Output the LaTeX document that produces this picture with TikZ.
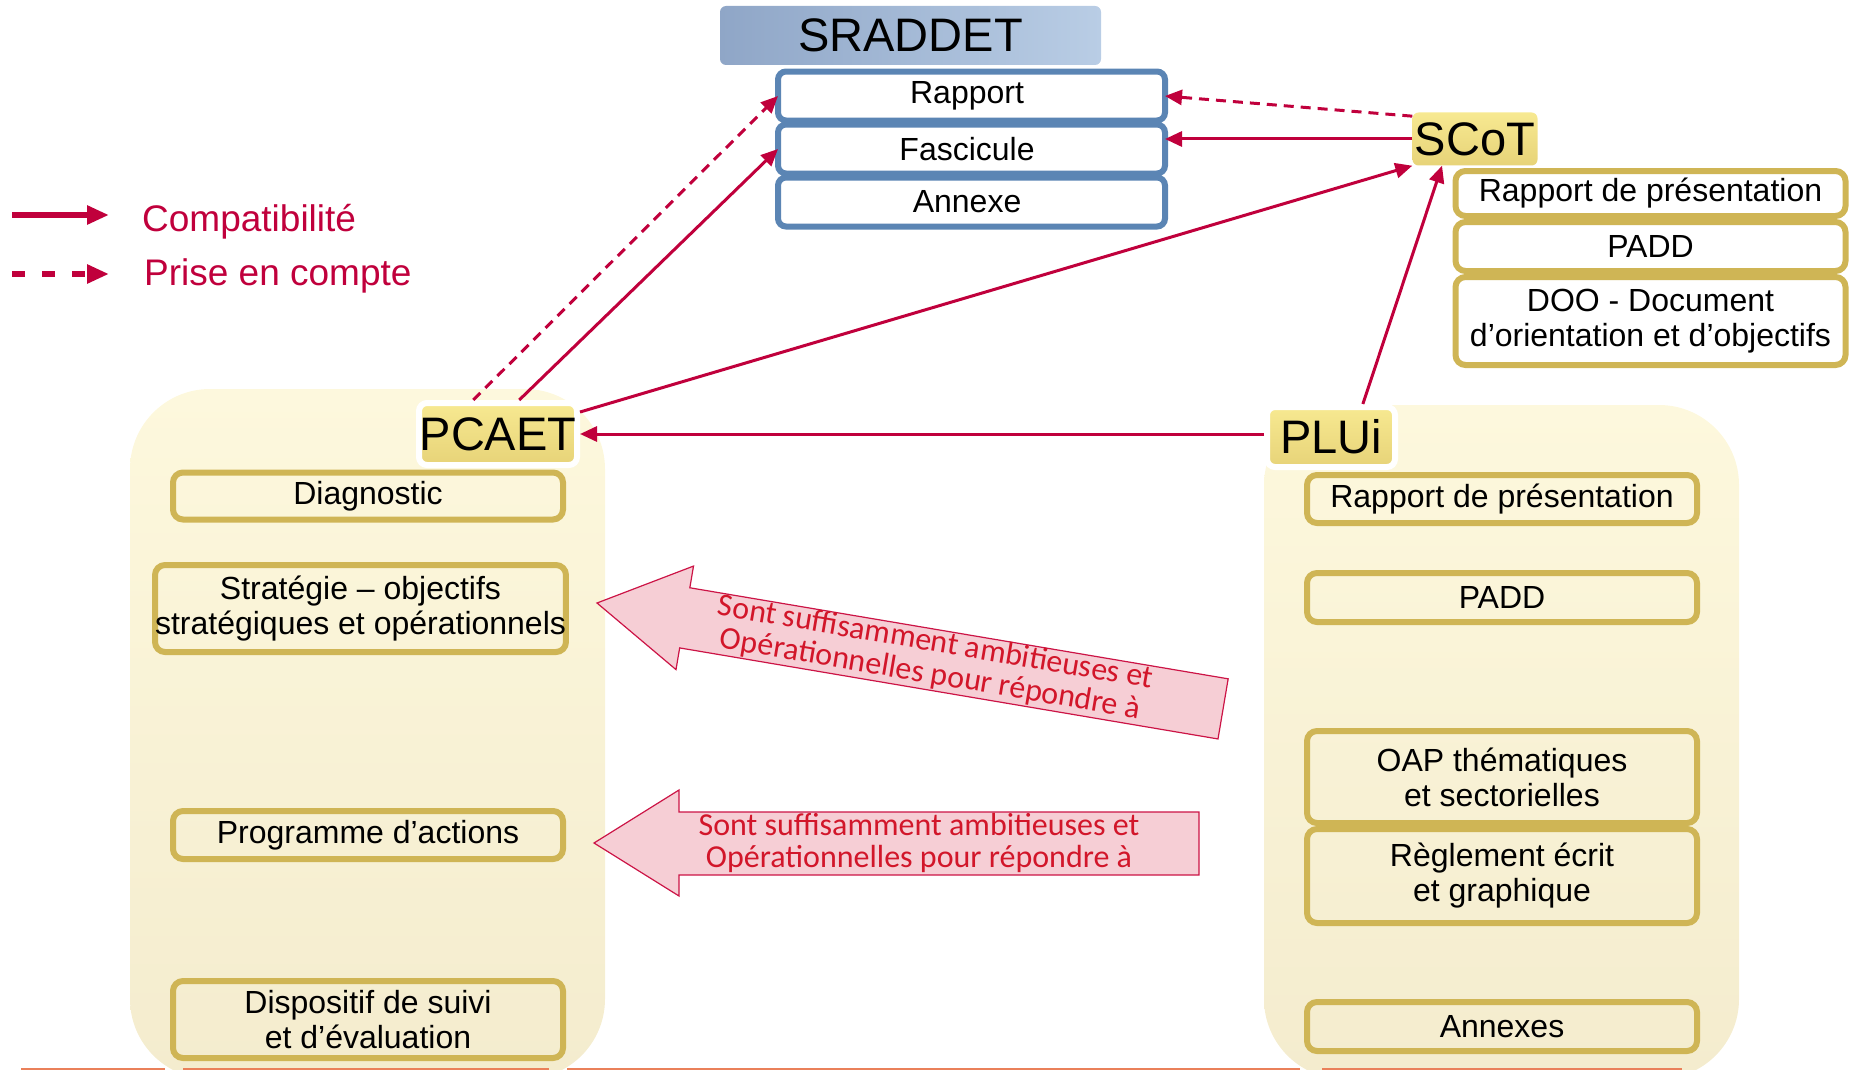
\documentclass[tikz,border=0pt]{standalone}
\usepackage{fontspec}
\setmainfont{Liberation Sans}
\newfontfamily\calfont{Carlito}
\usetikzlibrary{arrows.meta,positioning}
\usetikzlibrary{matrix,calc}

\definecolor{crimson}{RGB}{192,0,60}
\definecolor{bluebord}{RGB}{91,133,180}
\definecolor{bluedark}{RGB}{143,166,199}
\definecolor{bluelight}{RGB}{185,205,229}
\definecolor{goldbord}{RGB}{207,181,85}
\definecolor{ylwtop}{RGB}{247,233,145}
\definecolor{ylwbot}{RGB}{231,211,120}
\definecolor{creamtop}{RGB}{253,248,221}
\definecolor{creambot}{RGB}{244,236,206}
\definecolor{pinkfill}{RGB}{246,206,213}
\definecolor{pinkedge}{RGB}{204,20,70}
\definecolor{redtext}{RGB}{210,22,42}
\definecolor{footline}{RGB}{234,128,90}

\begin{document}
\begin{tikzpicture}[x=1pt, y=-1pt,
      txt/.style={font=\fontsize{32}{35}\selectfont, align=center},
      ttl/.style={font=\fontsize{47}{50}\selectfont, inner sep=0pt},
      blubox/.style={txt, draw=bluebord, line width=6pt, rounded corners=8pt, fill=white,
          minimum width=387pt, minimum height=49pt, outer sep=0pt},
      goldbox/.style={txt, draw=goldbord, line width=6pt, rounded corners=10pt,
          minimum width=390pt, inner xsep=0pt},
      doclabel/.style={ttl, top color=ylwtop, bottom color=ylwbot, draw=white,
          line width=6pt, rounded corners=8pt},
      panel/.style={top color=creamtop, bottom color=creambot, rounded corners=80pt,
          minimum width=475pt},
      compat/.style={draw=crimson, line width=3pt, -{Triangle[length=17pt,width=15pt]}},
      prise/.style={compat, dash pattern=on 10pt off 7pt},
      bigarrow/.style={fill=pinkfill, draw=pinkedge, line width=1.2pt},
      arrtxt/.style={font=\calfont\fontsize{32}{32}\selectfont, text=redtext, align=center,
          inner sep=0pt},
      legtxt/.style={anchor=west, font=\fontsize{37}{40}\selectfont, text=crimson, inner sep=0pt}]

  \useasboundingbox (0,0) rectangle (1850,1070);
  \clip (0,0) rectangle (1850,1070);

  \node[panel, minimum height=690pt] (pcaetbg) at (367.5,734) {};
  \node[panel, minimum height=674pt] (pluibg) at (1501.5,742) {};

  \begin{scope}[shift={(597,603)}, rotate=-9.6]
    \draw[bigarrow] (0,0) -- (89,-52.5) -- (89,-30.5) -- (635,-30.5) -- (635,30.5)
        -- (89,30.5) -- (89,52.5) -- cycle;
  \end{scope}
  \node[arrtxt, rotate=-9.6] (ambA) at (933,659)
      {Sont suffisamment ambitieuses et\\Opérationnelles pour répondre à};
  \draw[bigarrow] (594,843) -- (679,790) -- (679,812) -- (1199,812) -- (1199,875)
      -- (679,875) -- (679,896) -- cycle;
  \node[arrtxt] (ambB) at (919,843)
      {Sont suffisamment ambitieuses et\\Opérationnelles pour répondre à};

  \node[ttl, left color=bluedark, right color=bluelight, rounded corners=6pt,
      minimum width=381pt, minimum height=59pt] (sraddet) at (910.5,35.5) {SRADDET};
  \matrix (parts) [matrix of nodes, nodes={blubox}, row sep=-2pt, inner sep=0pt]
      at (971.5,149)
  {
      Rapport \\
      Fascicule \\
      Annexe \\
  };

  \node[ttl, top color=ylwtop, bottom color=ylwbot, rounded corners=6pt,
      minimum width=125pt, minimum height=53pt] (scot) at (1475,139) {SCoT};
  \node[goldbox, fill=white, minimum height=45pt] (scotA) at (1650.5,193.5) {Rapport de présentation};
  \node[goldbox, fill=white, minimum height=49pt, below=0pt of scotA] (scotB) {PADD};
  \node[goldbox, fill=white, minimum height=88pt, below=0pt of scotB] (scotC)
      {DOO - Document\\d’orientation et d’objectifs};

  \node[doclabel, minimum width=158pt, minimum height=62pt] (pcaet) at (498,434) {PCAET};
  \node[goldbox, minimum height=47pt] (diag) at (368,496) {Diagnostic};
  \node[goldbox, minimum width=405pt, minimum height=87pt] (strat) at (360.5,608.5)
      {Stratégie – objectifs\\stratégiques et opérationnels};
  \node[goldbox, minimum height=48pt] (prog) at (368,835) {Programme d’actions};
  \node[goldbox, minimum height=77pt] (suivi) at (368,1019.5) {Dispositif de suivi\\et d’évaluation};

  \node[doclabel, minimum width=128pt, minimum height=60pt] (plui) at (1331,437) {PLUi};
  \node[goldbox, minimum height=48pt] (rp) at (1502,499) {Rapport de présentation};
  \node[goldbox, minimum height=49pt] (padd) at (1502,597.5) {PADD};
  \node[goldbox, minimum height=92pt] (oap) at (1502,777) {OAP thématiques\\et sectorielles};
  \node[goldbox, minimum height=94pt] (regl) at (1502,876) {Règlement écrit\\et graphique};
  \node[goldbox, minimum height=49pt] (annx) at (1502,1026.5) {Annexes};

  \draw[prise] (scot.160) -- (parts-1-1.east);
  \draw[compat] (scot.west) -- (scot.west -| parts-2-1.east);
  \draw[compat] (pcaet.15) -- (scot.south west);
  \draw[compat] (plui.46) -- (scot.219);
  \draw[compat] (plui.west |- pcaet.east) -- (pcaet.east);
  \draw[prise] (pcaet.126) -- (parts-1-1.west);
  \draw[compat] (pcaet.58) -- (parts-2-1.west);

  \coordinate (cmpA) at (12,215);
  \coordinate (cmpB) at (109,215);
  \coordinate (prsA) at (12,274);
  \coordinate (prsB) at (109,274);
  \draw[crimson, line width=6pt, -{Triangle[length=22pt,width=18pt]}] (cmpA) -- (cmpB);
  \draw[crimson, line width=6pt, dash pattern=on 13pt off 17pt,
      -{Triangle[length=22pt,width=18pt]}] (prsA) -- (prsB);
  \node[legtxt] (lgcmp) at (142,222) {Compatibilité};
  \node[legtxt] (lgprs) at (144,276) {Prise en compte};

  \foreach \a/\b in {21/165,183/549,567/1300,1322/1682}
      \draw[footline, line width=2pt] (\a,1069) -- (\b,1069);
\end{tikzpicture}
\end{document}
